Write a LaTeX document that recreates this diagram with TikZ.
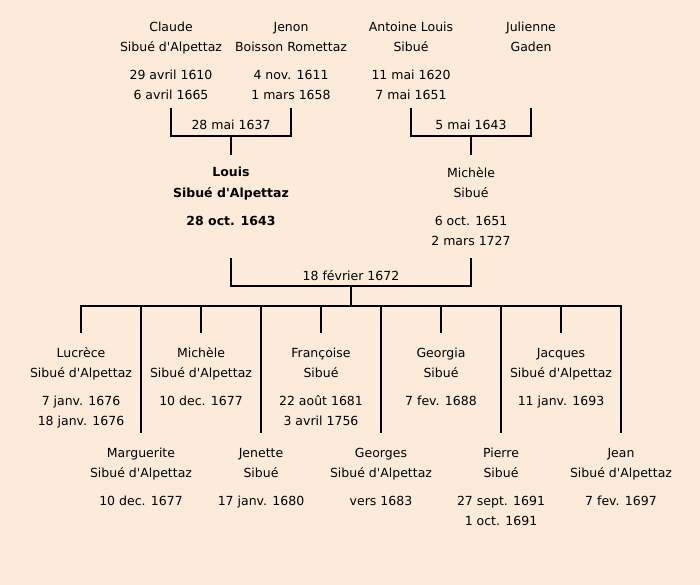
\documentclass[tikz,border=0pt]{standalone}
\usepackage{fontspec}
\newfontfamily\treefont{DejaVu Sans}
\definecolor{paper}{RGB}{251,235,216}
\begin{document}
\begin{tikzpicture}[x=1pt, y=-1pt,
  person/.style={align=center, anchor=base, inner sep=0pt, font=\treefont\fontsize{12.5}{20}\selectfont},
  wed/.style={anchor=base, inner sep=0pt, font=\treefont\fontsize{12.5}{20}\selectfont},
  link/.style={line width=2pt}]
\fill[paper] (0,0) rectangle (700,585);
% levels of the connectors
\coordinate (lev0) at (0,108);
\coordinate (lev1) at (0,136);
\coordinate (lev2) at (0,155);
\coordinate (lev3) at (0,258);
\coordinate (lev4) at (0,286);
\coordinate (lev5) at (0,306);
\coordinate (lev6) at (0,333);
\coordinate (lev7) at (0,433);
% grandparents (placed at the baseline of their last line)
\node[person] (pid0) at (171,100){Claude\\Sibué d'Alpettaz\\[8pt]29 avril 1610\\6 avril 1665};
\node[person] (pid1) at (291,100){Jenon\\Boisson Romettaz\\[8pt]4 nov. 1611\\1 mars 1658};
\node[person] (pid2) at (411,100){Antoine Louis\\Sibué\\[8pt]11 mai 1620\\7 mai 1651};
\node[person] (pid3) at (531,52){Julienne\\Gaden};
\node[wed] (mid0) at (231,130){28 mai 1637};
\node[wed] (mid1) at (471,130){5 mai 1643};
\draw[link] (pid0 |- lev0) |- (mid0 |- lev1) -| (pid1 |- lev0);
\draw[link] (mid0 |- lev1) -- (mid0 |- lev2);
\draw[link] (pid2 |- lev0) |- (mid1 |- lev1) -| (pid3 |- lev0);
\draw[link] (mid1 |- lev1) -- (mid1 |- lev2);
% parents
\node[person, font=\treefont\bfseries\fontsize{12.5}{20}\selectfont] (pid4) at (231,225){Louis\\Sibué d'Alpettaz\\[8pt]28 oct. 1643};
\node[person] (pid5) at (471,245){Michèle\\Sibué\\[8pt]6 oct. 1651\\2 mars 1727};
\node[wed] (mid2) at (351,280){18 février 1672};
\draw[link] (pid4 |- lev3) |- (mid2 |- lev4) -| (pid5 |- lev3);
\draw[link] (mid2 |- lev4) -- (mid2 |- lev5);
% children
\node[person] (pid6) at (81,425){Lucrèce\\Sibué d'Alpettaz\\[8pt]7 janv. 1676\\18 janv. 1676};
\node[person] (pid7) at (201,405){Michèle\\Sibué d'Alpettaz\\[8pt]10 dec. 1677};
\node[person] (pid8) at (321,425){Françoise\\Sibué\\[8pt]22 août 1681\\3 avril 1756};
\node[person] (pid9) at (441,405){Georgia\\Sibué\\[8pt]7 fev. 1688};
\node[person] (pid10) at (561,405){Jacques\\Sibué d'Alpettaz\\[8pt]11 janv. 1693};
\node[person] (pid11) at (141,505){Marguerite\\Sibué d'Alpettaz\\[8pt]10 dec. 1677};
\node[person] (pid12) at (261,505){Jenette\\Sibué\\[8pt]17 janv. 1680};
\node[person] (pid13) at (381,505){Georges\\Sibué d'Alpettaz\\[8pt]vers 1683};
\node[person] (pid14) at (501,525){Pierre\\Sibué\\[8pt]27 sept. 1691\\1 oct. 1691};
\node[person] (pid15) at (621,505){Jean\\Sibué d'Alpettaz\\[8pt]7 fev. 1697};
\draw[link] (pid6 |- lev6) |- (pid15 |- lev5) -- (pid15 |- lev7);
\draw[link] (pid7 |- lev5) -- (pid7 |- lev6);
\draw[link] (pid8 |- lev5) -- (pid8 |- lev6);
\draw[link] (pid9 |- lev5) -- (pid9 |- lev6);
\draw[link] (pid10 |- lev5) -- (pid10 |- lev6);
\draw[link] (pid11 |- lev5) -- (pid11 |- lev7);
\draw[link] (pid12 |- lev5) -- (pid12 |- lev7);
\draw[link] (pid13 |- lev5) -- (pid13 |- lev7);
\draw[link] (pid14 |- lev5) -- (pid14 |- lev7);
\end{tikzpicture}
\end{document}
